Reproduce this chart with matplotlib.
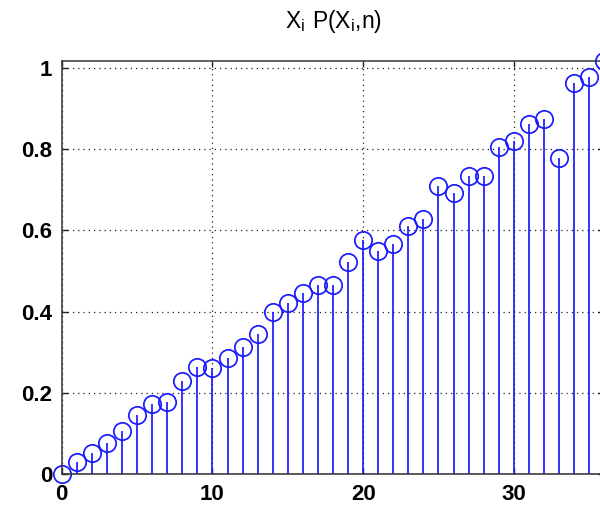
import numpy as np
import matplotlib
matplotlib.use("Agg")
import matplotlib.pyplot as plt

plt.rcParams['font.family'] = ['Liberation Sans', 'DejaVu Sans']
plt.rcParams['mathtext.default'] = 'regular'

# stem data: index n and value X_i P(X_i, n)
n = list(range(37))
values = [0.000, 0.030, 0.052, 0.076, 0.106, 0.145, 0.172, 0.177, 0.229, 0.264,
          0.261, 0.286, 0.313, 0.345, 0.399, 0.421, 0.445, 0.466, 0.466, 0.523,
          0.576, 0.548, 0.566, 0.611, 0.629, 0.709, 0.691, 0.735, 0.735, 0.805,
          0.821, 0.861, 0.874, 0.779, 0.962, 0.977, 1.017]

x_ticks = [0, 10, 20, 30]
y_ticks = [0, 0.2, 0.4, 0.6, 0.8, 1]
y_labels = ['0', '0.2', '0.4', '0.6', '0.8', '1']

fig = plt.figure(figsize=(6.0, 5.09), dpi=100)
ax = fig.add_axes([0.103, 0.069, 0.904, 0.811])

markerline, stemlines, baseline = ax.stem(n, values, linefmt='b-', markerfmt='bo', basefmt='k-')
plt.setp(stemlines, linewidth=1.25, color='#1a1aff')
plt.setp(markerline, markersize=12.5, markerfacecolor='none', markeredgecolor='#1a1aff',
         markeredgewidth=1.25, clip_on=False)
plt.setp(baseline, linewidth=1.0, color='#333333')

ax.set_xlim(0, 36)
ax.set_ylim(0, 1.017)
ax.set_xticks(x_ticks)
ax.set_xticklabels([str(t) for t in x_ticks])
ax.set_yticks(y_ticks)
ax.set_yticklabels(y_labels)

ax.grid(True, color='#222222', linestyle=(0, (1, 3.2)), linewidth=0.9)
ax.set_axisbelow(True)
ax.tick_params(direction='in', top=True, right=True, length=4.5, width=1.0,
               labelsize=16, pad=7, colors='#222222', labelcolor='black')
for lbl in ax.get_xticklabels() + ax.get_yticklabels():
    lbl.set_fontweight('bold')
for s in ax.spines.values():
    s.set_linewidth(1.1)
    s.set_color('#333333')

ax.set_title('$X_{i}\\ P(X_{i}{,}n)$', fontsize=16.5, pad=24)

fig.savefig('out.png', dpi=100)
